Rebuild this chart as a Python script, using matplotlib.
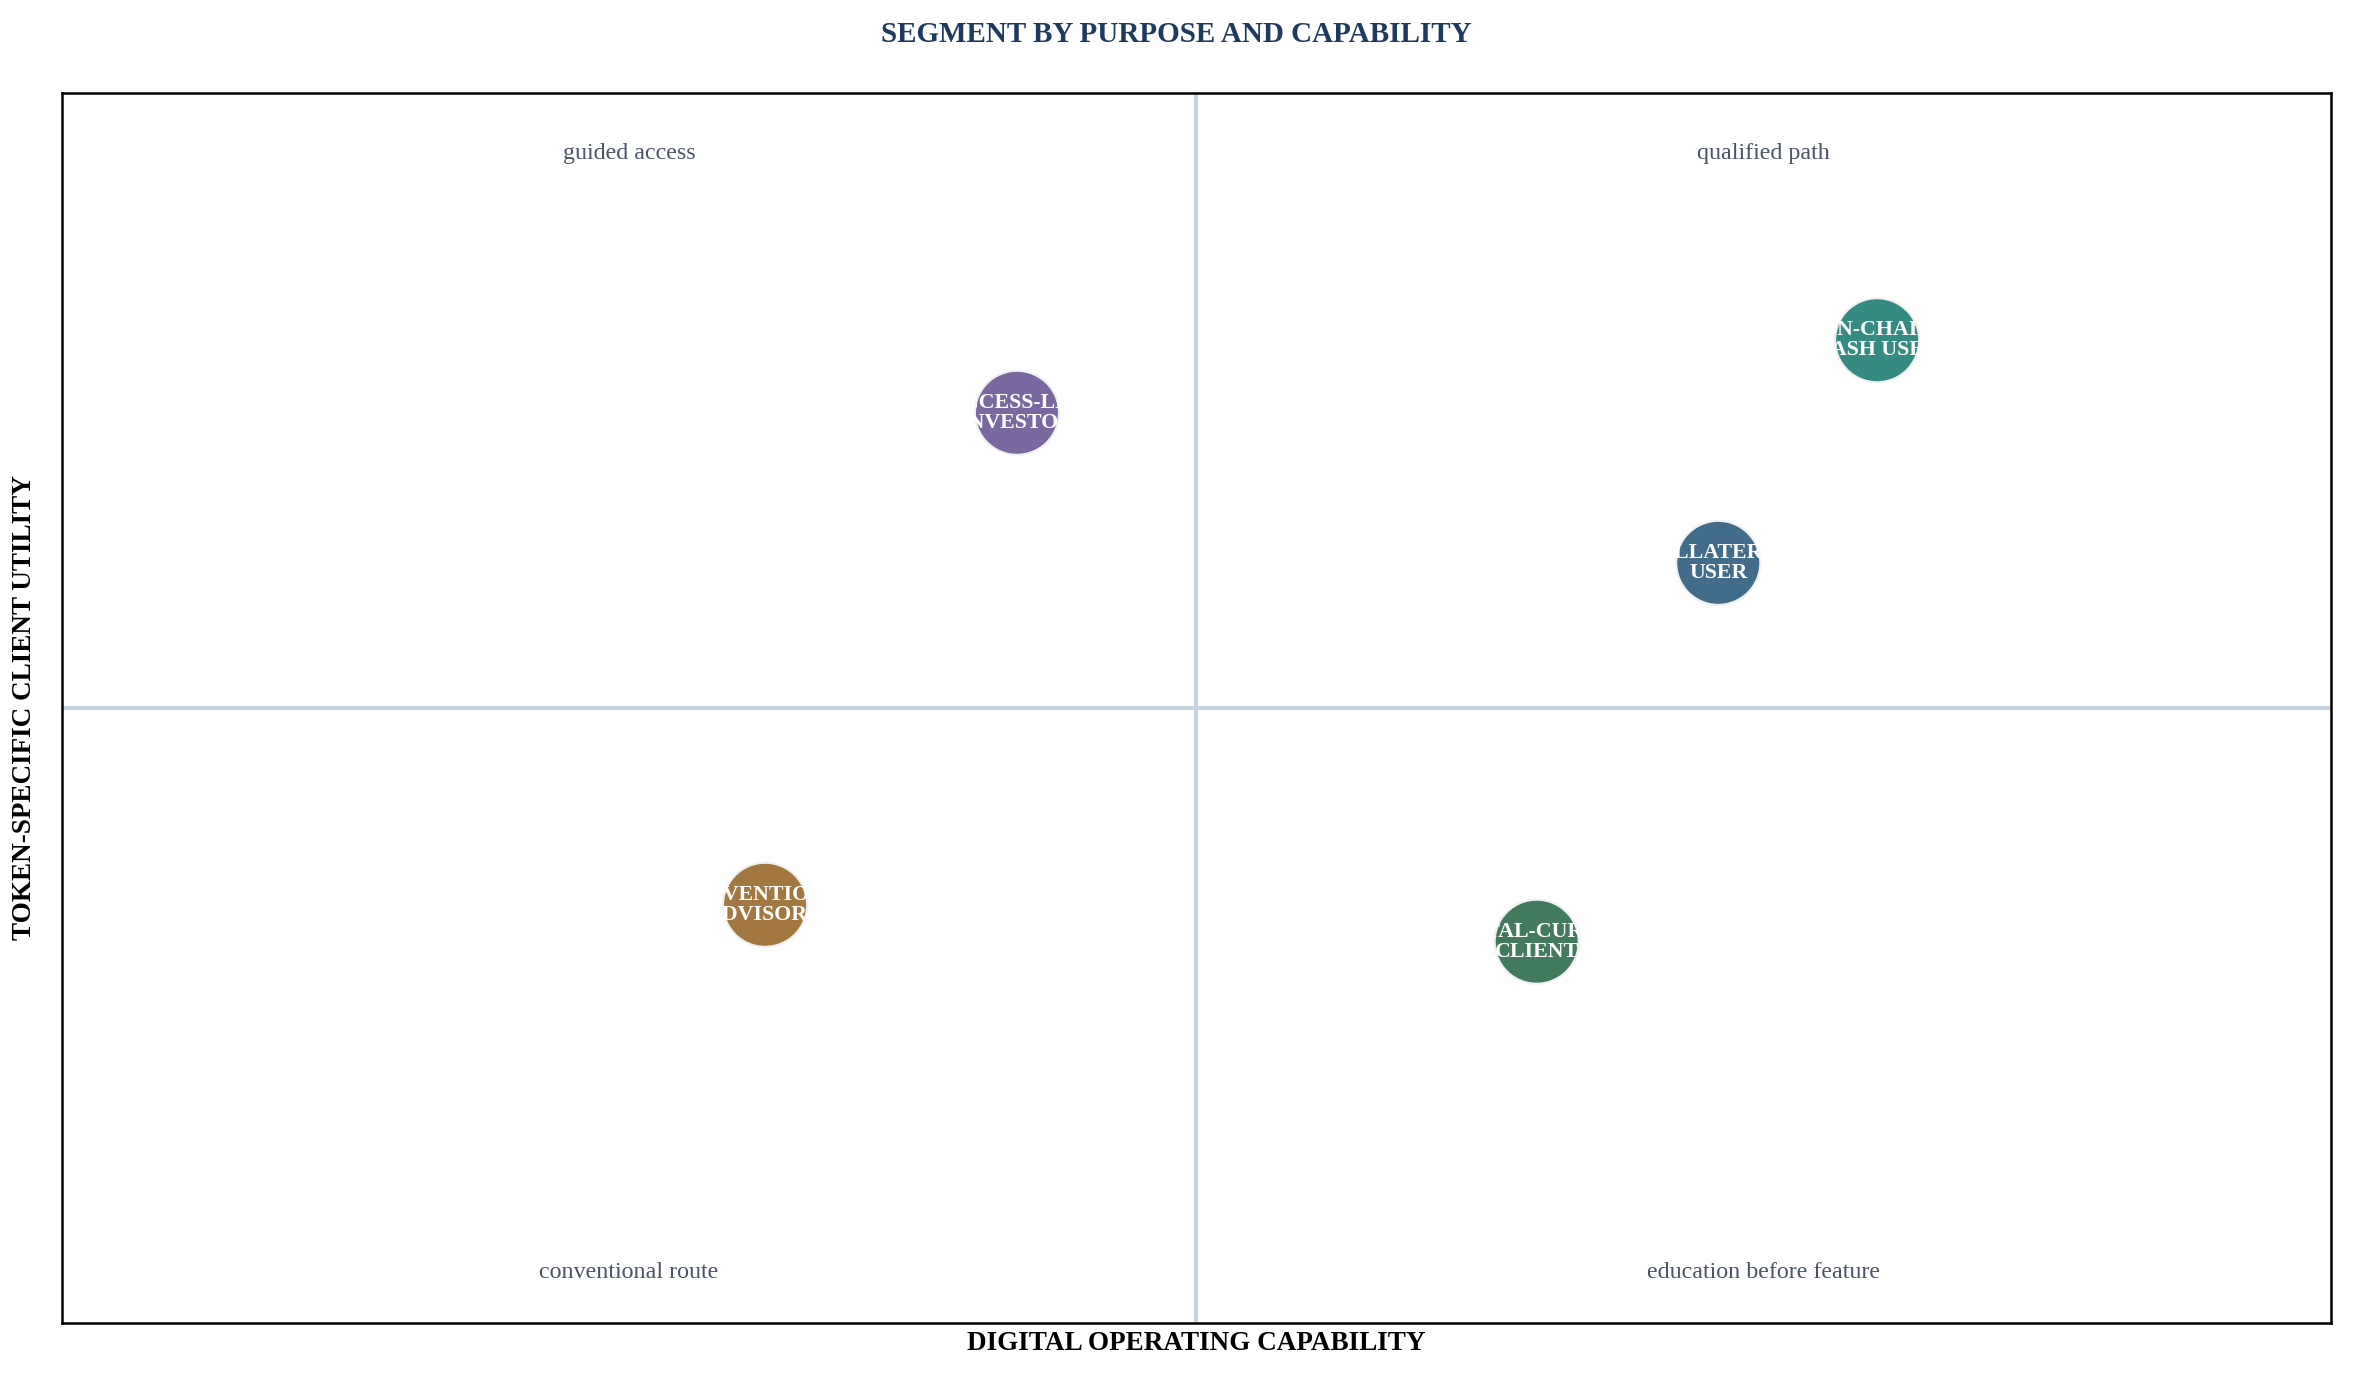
import matplotlib.pyplot as plt
from matplotlib.patches import Ellipse

segments = ['ACCESS-LED\nINVESTOR', 'ON-CHAIN\nCASH USER', 'COLLATERAL\nUSER',
            'CONVENTIONAL\nADVISORY', 'DIGITAL-CURIOUS\nCLIENT']
capability = [42.1, 80.0, 73.0, 31.0, 65.0]
utility = [74.0, 79.9, 61.8, 34.0, 31.0]
colors = ['#7a68a0', '#358a82', '#426d8a', '#a27840', '#427a5e']

quad_labels = ['guided access', 'qualified path', 'conventional route', 'education before feature']
quad_x = [25, 75, 25, 75]
quad_y = [95.1, 95.1, 4.1, 4.1]

plt.rcParams['font.family'] = ['Liberation Serif', 'DejaVu Serif']
fig = plt.figure(figsize=(15.69, 9.24), dpi=150)
ax = fig.add_axes([41 / 1568, 1 - 882 / 924, 1512 / 1568, 820 / 924])
ax.set_xlim(0, 100)
ax.set_ylim(0, 100)
ax.set_xticks([])
ax.set_yticks([])
for s in ax.spines.values():
    s.set_linewidth(1.2)

ax.axvline(50, color='#c8d2de', linewidth=2, zorder=1)
ax.axhline(50, color='#c8d2de', linewidth=2, zorder=1)

# circle size in data units (axes not equal aspect)
w = 84 / 2268 * 100
h = 84 / 1230 * 100
for name, x, y, c in zip(segments, capability, utility, colors):
    e = Ellipse((x, y), w, h, facecolor=c, edgecolor='#f0f0f0', linewidth=1, zorder=3)
    ax.add_patch(e)
    t = ax.text(x, y, name, ha='center', va='center', color='white', fontsize=10.5,
                fontweight='bold', linespacing=1.0, zorder=4)
    t.set_clip_path(e)

for lab, x, y in zip(quad_labels, quad_x, quad_y):
    ax.text(x, y, lab, ha='center', va='center', color='#4a5568', fontsize=11.5)

ax.set_xlabel('DIGITAL OPERATING CAPABILITY', fontsize=13, fontweight='bold', labelpad=4)
ax.set_ylabel('TOKEN-SPECIFIC CLIENT UTILITY', fontsize=13, fontweight='bold', labelpad=12)
fig.suptitle('SEGMENT BY PURPOSE AND CAPABILITY', fontsize=14, fontweight='bold',
             color='#1f3a5f', y=0.985)

fig.savefig('out.png')
